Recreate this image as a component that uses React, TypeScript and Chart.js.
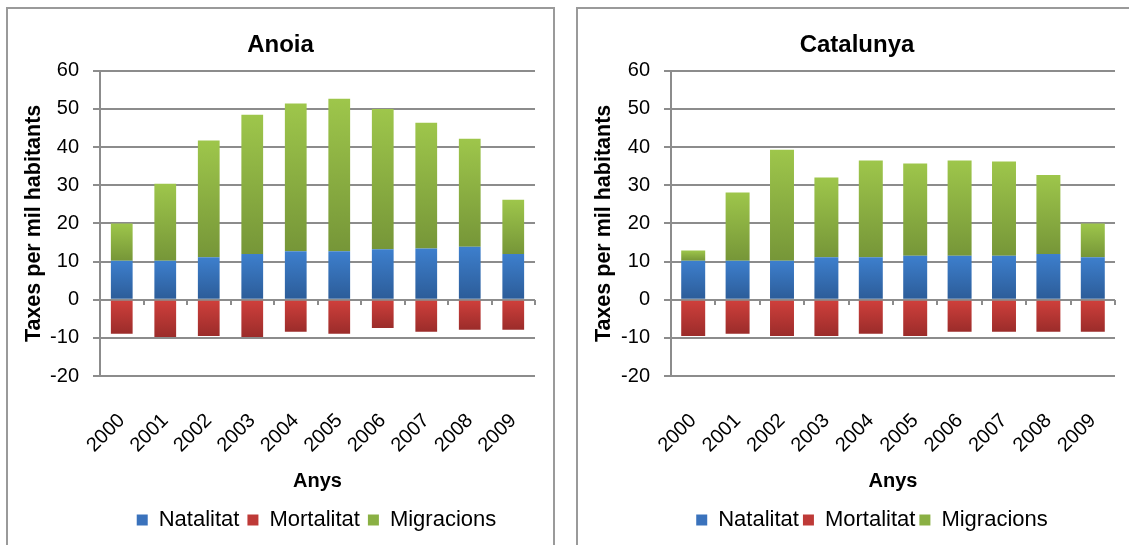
import React, { useEffect, useRef } from "react";
import { Chart, registerables } from "chart.js";

Chart.register(...registerables);

const years = ["2000", "2001", "2002", "2003", "2004", "2005", "2006", "2007", "2008", "2009"];

const anoiaNatalitat = [10.2, 10.2, 11.1, 12.0, 12.7, 12.7, 13.2, 13.4, 13.9, 12.0];
const anoiaMortalitat = [-8.9, -9.8, -9.5, -9.8, -8.4, -8.9, -7.4, -8.4, -7.9, -7.9];
const anoiaMigracions = [9.8, 20.2, 30.6, 36.5, 38.7, 40.0, 36.8, 33.0, 28.3, 14.2];

const catNatalitat = [10.2, 10.2, 10.2, 11.1, 11.1, 11.5, 11.5, 11.5, 12.0, 11.1];
const catMortalitat = [-9.5, -8.9, -9.5, -9.5, -8.9, -9.5, -8.4, -8.4, -8.4, -8.4];
const catMigracions = [2.7, 17.9, 29.1, 20.9, 25.4, 24.2, 25.0, 24.7, 20.7, 8.9];

const seriesNames = ["Natalitat", "Mortalitat", "Migracions"];
const yMin = -20;
const yMax = 60;
const yStep = 10;

const FONT = "'Liberation Sans', Arial, sans-serif";
const GRID = "#8c8c8c";

const palette = [
  { top: "#3D7FCD", bottom: "#2C5C98", solid: "#3A72BC" },
  { top: "#D0403C", bottom: "#9B2C2A", solid: "#BE3A37" },
  { top: "#9EC64B", bottom: "#769638", solid: "#8AB044" },
];

function gradientFill(di: number) {
  return (ctx: any) => {
    const pal = palette[di];
    const chart = ctx.chart;
    const ys = chart.scales && chart.scales.y;
    if (ctx.type !== "data" || !ys || !chart.chartArea) return pal.solid;
    const i = ctx.dataIndex;
    const sets = chart.data.datasets;
    const v = sets[di].data[i] as number;
    let base = 0;
    for (let k = 0; k < di; k++) {
      const w = sets[k].data[i] as number;
      if ((w >= 0) === (v >= 0)) base += w;
    }
    const a = ys.getPixelForValue(base);
    const b = ys.getPixelForValue(base + v);
    const top = Math.min(a, b);
    const bot = Math.max(a, b);
    if (!isFinite(top) || !isFinite(bot) || bot - top < 0.5) return pal.solid;
    const g = chart.ctx.createLinearGradient(0, top, 0, bot);
    g.addColorStop(0, pal.top);
    g.addColorStop(1, pal.bottom);
    return g;
  };
}

type PanelProps = {
  title: string;
  nat: number[];
  mort: number[];
  mig: number[];
  x: number;
  width: number;
  yWidth: number;
  padRight: number;
  barPct: number;
  legendShift: number;
  legendPad: number;
};

const CANVAS_H = 532;

function Panel(p: PanelProps) {
  const ref = useRef<HTMLCanvasElement | null>(null);
  useEffect(() => {
    if (!ref.current) return;
    const shiftPlugin = {
      id: "legendShift",
      afterLayout(chart: any) {
        const l = chart.legend;
        if (l && p.legendShift) {
          l.left += p.legendShift;
          l.right += p.legendShift;
        }
      },
    };
    const extra = 8 - p.legendPad;
    const chart = new Chart(ref.current, {
      type: "bar",
      data: {
        labels: years,
        datasets: [p.nat, p.mort, p.mig].map((d, di) => ({
          label: seriesNames[di],
          data: d,
          backgroundColor: gradientFill(di),
          borderWidth: 0,
          barPercentage: p.barPct,
          categoryPercentage: 1,
        })),
      },
      options: {
        animation: false,
        responsive: false,
        maintainAspectRatio: false,
        layout: { padding: 0 },
        plugins: {
          title: {
            display: true,
            text: p.title,
            color: "#000",
            font: { family: FONT, size: 24, weight: "bold" },
            padding: { top: 22, bottom: 11 },
          },
          legend: {
            position: "bottom",
            fullSize: false,
            labels: {
              color: "#000",
              font: { family: FONT, size: 22 },
              boxWidth: 11,
              boxHeight: 11,
              padding: p.legendPad,
              generateLabels: () =>
                seriesNames.map((n, i) => ({
                  text: n,
                  fillStyle: palette[i].solid,
                  strokeStyle: palette[i].solid,
                  lineWidth: 0,
                  hidden: false,
                  datasetIndex: i,
                })),
            },
          },
          tooltip: { enabled: false },
        },
        scales: {
          x: {
            stacked: true,
            position: "bottom",
            grid: { display: false, drawTicks: false },
            border: { display: false },
            ticks: {
              color: "#000",
              font: { family: FONT, size: 20 },
              maxRotation: 45,
              minRotation: 45,
              autoSkip: false,
              padding: 33,
            },
            title: {
              display: true,
              text: "Anys",
              color: "#000",
              font: { family: FONT, size: 20, weight: "bold" },
              padding: { top: 0, bottom: 8 + extra },
            },
            afterFit(scale: any) {
              scale.height = 125 + extra;
              scale.paddingLeft = 0;
              scale.paddingRight = 0;
            },
          },
          x2: {
            type: "category",
            position: { y: 0 },
            offset: true,
            grid: {
              offset: true,
              drawOnChartArea: false,
              drawTicks: true,
              tickLength: 5,
              color: GRID,
              lineWidth: 2,
            },
            border: { display: false },
            ticks: { display: false },
            afterFit(scale: any) {
              scale.paddingLeft = 0;
              scale.paddingRight = 0;
            },
          },
          y: {
            stacked: true,
            min: yMin,
            max: yMax,
            ticks: {
              stepSize: yStep,
              color: "#000",
              font: { family: FONT, size: 20 },
              padding: 14,
            },
            grid: {
              color: GRID,
              lineWidth: 2,
              tickLength: 7,
              drawTicks: true,
            },
            border: { display: true, color: GRID, width: 2 },
            title: {
              display: true,
              text: "Taxes per mil habitants",
              color: "#000",
              font: { family: FONT, size: 21.5, weight: "bold" },
              padding: { top: 13, bottom: 0 },
            },
            afterFit(scale: any) {
              scale.width = p.yWidth;
            },
          },
          yPad: {
            type: "linear",
            position: "right",
            display: true,
            grid: { display: false, drawTicks: false },
            border: { display: false },
            ticks: { display: false },
            afterFit(scale: any) {
              scale.width = p.padRight;
              scale.paddingTop = 0;
              scale.paddingBottom = 0;
            },
          },
        },
      } as any,
      plugins: [shiftPlugin],
    });
    return () => chart.destroy();
  }, []);
  return (
    <>
      <div
        style={{
          position: "absolute",
          left: p.x - 2,
          top: 7,
          width: p.width + 4,
          height: 600,
          border: "2px solid #9a9a9a",
          boxSizing: "border-box",
          background: "#fff",
        }}
      />
      <canvas
        ref={ref}
        width={p.width}
        height={CANVAS_H}
        style={{
          position: "absolute",
          left: p.x,
          top: 9,
          width: p.width,
          height: CANVAS_H,
          display: "block",
        }}
      />
    </>
  );
}

export default function App() {
  return (
    <div
      style={{
        position: "absolute",
        left: 0,
        top: 0,
        width: 1129,
        height: 545,
        overflow: "hidden",
        background: "#fff",
      }}
    >
      <Panel
        title="Anoia"
        nat={anoiaNatalitat}
        mort={anoiaMortalitat}
        mig={anoiaMigracions}
        x={8}
        width={545}
        yWidth={92}
        padRight={18}
        barPct={0.5}
        legendShift={-1}
        legendPad={8}
      />
      <Panel
        title="Catalunya"
        nat={catNatalitat}
        mort={catMortalitat}
        mig={catMigracions}
        x={578}
        width={558}
        yWidth={93}
        padRight={21}
        barPct={0.54}
        legendShift={-21}
        legendPad={4}
      />
    </div>
  );
}
